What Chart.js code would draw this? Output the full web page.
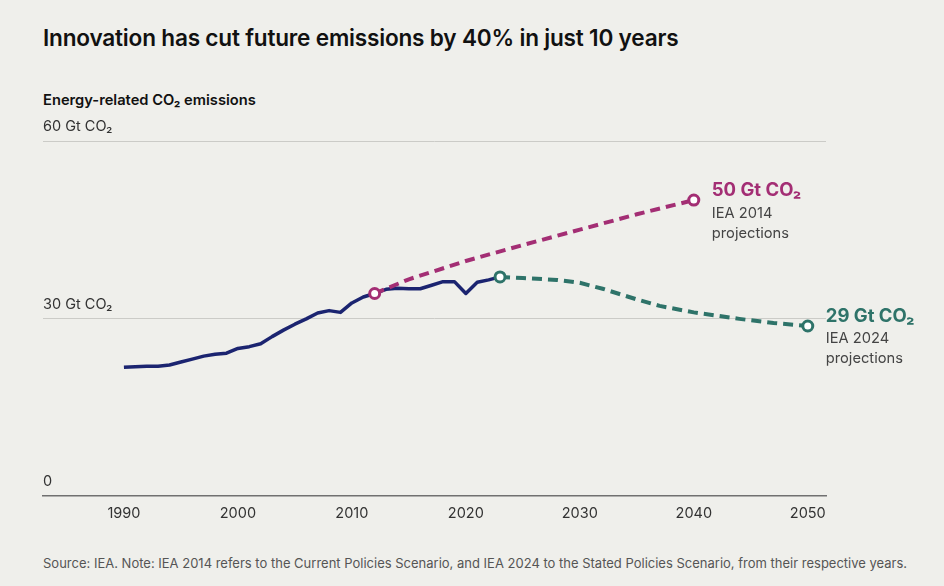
<!DOCTYPE html>
<html>
<head>
<meta charset="utf-8">
<title>Energy-related CO2 emissions</title>
<script src="https://cdn.jsdelivr.net/npm/chart.js@4.4.1/dist/chart.umd.min.js"></script>
<style>
  html, body { margin: 0; padding: 0; background: #efefeb; }
  body { width: 944px; height: 586px; position: relative; overflow: hidden;
         font-family: Inter, "Noto Sans", sans-serif; color: #111; }
  h1 { position: absolute; left: 43px; top: 24px; margin: 0; font-size: 22.6px; font-weight: 600; letter-spacing: -0.2px; }
  .sub { position: absolute; left: 43px; top: 91px; font-size: 14.7px; font-weight: 600; }
  .src { position: absolute; left: 43px; top: 555px; font-size: 13px; color: #555; }
  #wrap { position: absolute; left: 0; top: 0; width: 944px; height: 586px; }
</style>
</head>
<body>
<h1>Innovation has cut future emissions by 40% in just 10 years</h1>
<div class="sub">Energy-related CO₂ emissions</div>
<div class="src">Source: IEA. Note: IEA 2014 refers to the Current Policies Scenario, and IEA 2024 to the Stated Policies Scenario, from their respective years.</div>
<div id="wrap"><canvas id="chart"></canvas></div>

<script>
// Historical emissions (Gt CO2)
const histYears = [1990, 1991, 1992, 1993, 1994, 1995, 1996, 1997, 1998, 1999,
                   2000, 2001, 2002, 2003, 2004, 2005, 2006, 2007, 2008, 2009,
                   2010, 2011, 2012, 2013, 2014, 2015, 2016, 2017, 2018, 2019,
                   2020, 2021, 2022, 2023];
const histValues = [21.7, 21.8, 21.9, 21.9, 22.1, 22.6, 23.1, 23.6, 23.9, 24.1,
                    24.9, 25.2, 25.7, 26.9, 28.0, 29.0, 29.9, 30.9, 31.3, 31.0,
                    32.6, 33.6, 34.2, 34.9, 35.1, 35.0, 35.0, 35.6, 36.2, 36.2,
                    34.2, 36.1, 36.5, 37.0];

// IEA 2014 projection (Current Policies)
const proj2014Years = [2012, 2015, 2020, 2025, 2030, 2035, 2040];
const proj2014Values = [34.2, 36.6, 39.7, 42.4, 45.0, 47.6, 50.0];

// IEA 2024 projection (Stated Policies)
const proj2024Years = [2023, 2025, 2028, 2030, 2032, 2035, 2037, 2040, 2044, 2047, 2050];
const proj2024Values = [37.0, 36.8, 36.5, 36.0, 35.0, 33.2, 32.1, 31.0, 29.9, 29.2, 28.7];

const xTicks = [1990, 2000, 2010, 2020, 2030, 2040, 2050];
const yTicks = [0, 30, 60];
const yTickLabels = ['0', '30 Gt CO₂', '60 Gt CO₂'];

const proj2014Labels = ['50 Gt CO₂', 'IEA 2014', 'projections'];
const proj2024Labels = ['29 Gt CO₂', 'IEA 2024', 'projections'];

const NAVY = '#1b2470';
const MAGENTA = '#a32e74';
const TEAL = '#2e7369';

function toPoints(xs, ys) {
    return xs.map((x, i) => ({ x: x, y: ys[i] }));
}

// circles only on the first and last point of a projection
function endPoints(c) {
    const n = c.dataset.data.length;
    return (c.dataIndex === 0 || c.dataIndex === n - 1) ? 5 : 0;
}

// labels to the right of each projection's end point
const endLabelPlugin = {
    id: 'endLabels',
    afterDatasetsDraw(chart) {
        const ctx = chart.ctx;
        [[0, proj2014Labels, MAGENTA], [1, proj2024Labels, TEAL]].forEach(([i, lines, color]) => {
            const meta = chart.getDatasetMeta(i);
            const last = meta.data[meta.data.length - 1];
            const px = last.x + 18;
            const py = last.y;
            ctx.save();
            ctx.textAlign = 'left';
            ctx.textBaseline = 'middle';
            ctx.font = '700 18.5px Inter, "Noto Sans", sans-serif';
            ctx.fillStyle = color;
            ctx.fillText(lines[0], px, py - 10);
            ctx.font = '400 14.7px Inter, "Noto Sans", sans-serif';
            ctx.fillStyle = '#444';
            ctx.fillText(lines[1], px, py + 13);
            ctx.fillText(lines[2], px, py + 33);
            ctx.restore();
        });
    }
};

const ctx = document.getElementById('chart').getContext('2d');
const myChart = new Chart(ctx, {
    type: 'line',
    data: {
        datasets: [{
            label: 'IEA 2014 projections',
            data: toPoints(proj2014Years, proj2014Values),
            borderColor: MAGENTA,
            borderWidth: 4,
            borderDash: [10, 6],
            pointRadius: endPoints,
            pointBorderWidth: 3,
            pointBorderColor: MAGENTA,
            pointBackgroundColor: '#fff',
            order: 1
        }, {
            label: 'IEA 2024 projections',
            data: toPoints(proj2024Years, proj2024Values),
            borderColor: TEAL,
            borderWidth: 4,
            borderDash: [10, 6],
            pointRadius: endPoints,
            pointBorderWidth: 3,
            pointBorderColor: TEAL,
            pointBackgroundColor: '#fff',
            order: 1
        }, {
            label: 'Historical',
            data: toPoints(histYears, histValues),
            borderColor: NAVY,
            borderWidth: 3.5,
            pointRadius: 0,
            borderJoinStyle: 'round',
            order: 2
        }]
    },
    options: {
        responsive: true,
        maintainAspectRatio: false,
        animation: false,
        clip: false,
        layout: { padding: { left: 43, right: 118, top: 141, bottom: 55 } },
        plugins: { legend: { display: false }, tooltip: { enabled: false } },
        scales: {
            x: {
                type: 'linear',
                min: 1982.9,
                max: 2051.6,
                afterBuildTicks: s => { s.ticks = xTicks.map(v => ({ value: v })); },
                ticks: {
                    callback: v => String(v),
                    color: '#333',
                    font: { family: 'Inter', size: 14.5 },
                    padding: 9,
                    maxRotation: 0,
                    autoSkip: false
                },
                grid: { display: false, drawTicks: false },
                border: { display: true, color: '#707070', width: 1.5 }
            },
            y: {
                min: 0,
                max: 60,
                afterBuildTicks: s => { s.ticks = yTicks.map(v => ({ value: v })); },
                ticks: {
                    mirror: true,
                    padding: 0,
                    labelOffset: -14,
                    callback: v => yTickLabels[yTicks.indexOf(v)],
                    color: '#333',
                    font: { family: 'Inter', size: 14.5 }
                },
                grid: {
                    drawTicks: false,
                    color: c => (c.tick && c.tick.value === 0) ? 'rgba(0,0,0,0)' : '#cbcbc7'
                },
                border: { display: false }
            }
        }
    },
    plugins: [endLabelPlugin]
});
</script>
</body>
</html>
